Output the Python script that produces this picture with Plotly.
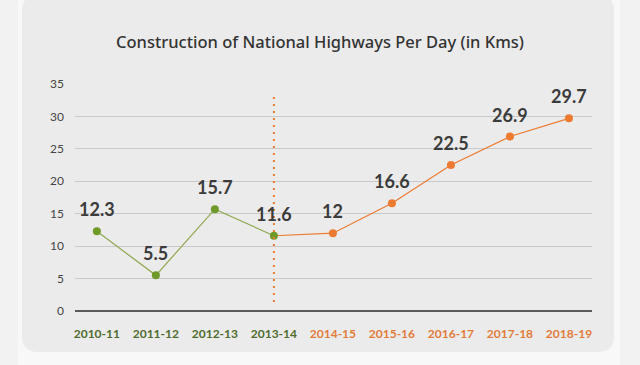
import plotly.graph_objects as go

years = ["2010-11", "2011-12", "2012-13", "2013-14", "2014-15",
         "2015-16", "2016-17", "2017-18", "2018-19"]
km_per_day = [12.3, 5.5, 15.7, 11.6, 12, 16.6, 22.5, 26.9, 29.7]
label_text = ["12.3", "5.5", "15.7", "11.6", "12", "16.6", "22.5", "26.9", "29.7"]
split_index = 3  # 2013-14 is the last year of the earlier period
y_ticks = [0, 5, 10, 15, 20, 25, 30, 35]

GREEN_LINE = "#8fa84e"
GREEN_MARK = "#6f9a2a"
GREEN_TEXT = "#4f6b2e"
ORANGE = "#ec7a30"
ORANGE_TEXT = "#e27b3a"

W, H = 640, 365
L, R, T, B = 75, 48, 84, 54
pw, ph = W - L - R, H - T - B

def px(x):
    return (x - L) / pw

def py(y):
    return (H - B - y) / ph

fig = go.Figure()

fig.add_trace(go.Scatter(
    x=years[:split_index + 1], y=km_per_day[:split_index + 1],
    mode="lines",
    line=dict(color=GREEN_LINE, width=1.2),
    hoverinfo="skip", showlegend=False,
))
fig.add_trace(go.Scatter(
    x=years[split_index:], y=km_per_day[split_index:],
    mode="lines",
    line=dict(color=ORANGE, width=1.2),
    hoverinfo="skip", showlegend=False,
))
fig.add_trace(go.Scatter(
    x=years[split_index + 1:], y=km_per_day[split_index + 1:],
    mode="markers",
    marker=dict(color=ORANGE, size=8),
    hoverinfo="x+y", showlegend=False,
))
fig.add_trace(go.Scatter(
    x=years[:split_index + 1], y=km_per_day[:split_index + 1],
    mode="markers", marker=dict(color=GREEN_MARK, size=8),
    hoverinfo="x+y", showlegend=False,
))

for yr, v, t in zip(years, km_per_day, label_text):
    fig.add_annotation(
        x=yr, y=v, text=t, showarrow=False, yshift=22,
        font=dict(family="Lato, sans-serif", size=18, color="#3b3b3b", weight="bold"),
    )

fig.add_shape(
    type="line", xref="x", yref="paper",
    x0=years[split_index], x1=years[split_index],
    y0=py(302), y1=py(92),
    line=dict(color=ORANGE, width=2, dash="2px,5px"),
)

cx0, cx1, cy0, cy1, r = 22, 614, -5, 352, 16
path = (
    f"M {px(cx0 + r)} {py(cy0)} L {px(cx1 - r)} {py(cy0)} "
    f"Q {px(cx1)} {py(cy0)} {px(cx1)} {py(cy0 + r)} "
    f"L {px(cx1)} {py(cy1 - r)} Q {px(cx1)} {py(cy1)} {px(cx1 - r)} {py(cy1)} "
    f"L {px(cx0 + r)} {py(cy1)} Q {px(cx0)} {py(cy1)} {px(cx0)} {py(cy1 - r)} "
    f"L {px(cx0)} {py(cy0 + r)} Q {px(cx0)} {py(cy0)} {px(cx0 + r)} {py(cy0)} Z"
)
fig.add_shape(type="rect", xref="paper", yref="paper", layer="below",
              x0=px(18), x1=px(620), y0=py(365), y1=py(0),
              fillcolor="#f8f8f8", line=dict(width=0))
fig.add_shape(type="path", path=path, xref="paper", yref="paper", layer="below",
              fillcolor="#ebebeb", line=dict(width=0))

fig.add_annotation(
    x=px(320), y=py(41), xref="paper", yref="paper",
    text="Construction of National Highways Per Day (in Kms)",
    showarrow=False, xanchor="center", yanchor="middle",
    font=dict(family="Noto Sans, sans-serif", size=16.5, color="#333333", weight=500),
)

tick_text = [
    f"<span style='color:{GREEN_TEXT if i <= split_index else ORANGE_TEXT}'><b>{y}</b></span>"
    for i, y in enumerate(years)
]

fig.update_layout(
    width=W, height=H,
    margin=dict(l=L, r=R, t=T, b=B),
    paper_bgcolor="#f2f2f2",
    plot_bgcolor="rgba(0,0,0,0)",
    xaxis=dict(
        type="category", range=[-0.37, 8.39],
        tickvals=years, ticktext=tick_text,
        showgrid=False, zeroline=False, showline=False,
        ticks="", ticklabelstandoff=14,
        tickfont=dict(family="Lato, sans-serif", size=12),
    ),
    yaxis=dict(
        range=[0, 35], tickvals=y_ticks,
        showgrid=True, gridcolor="#c9c9c9", gridwidth=1,
        zeroline=True, zerolinecolor="#5a5a5a", zerolinewidth=1.5,
        showline=False, ticks="", ticklabelstandoff=10,
        tickfont=dict(family="Lato, sans-serif", size=12, color="#444444"),
    ),
)

fig.write_html("out.html", config={"displayModeBar": False},
               post_script="document.body.style.margin='0';document.body.style.overflow='hidden';")
